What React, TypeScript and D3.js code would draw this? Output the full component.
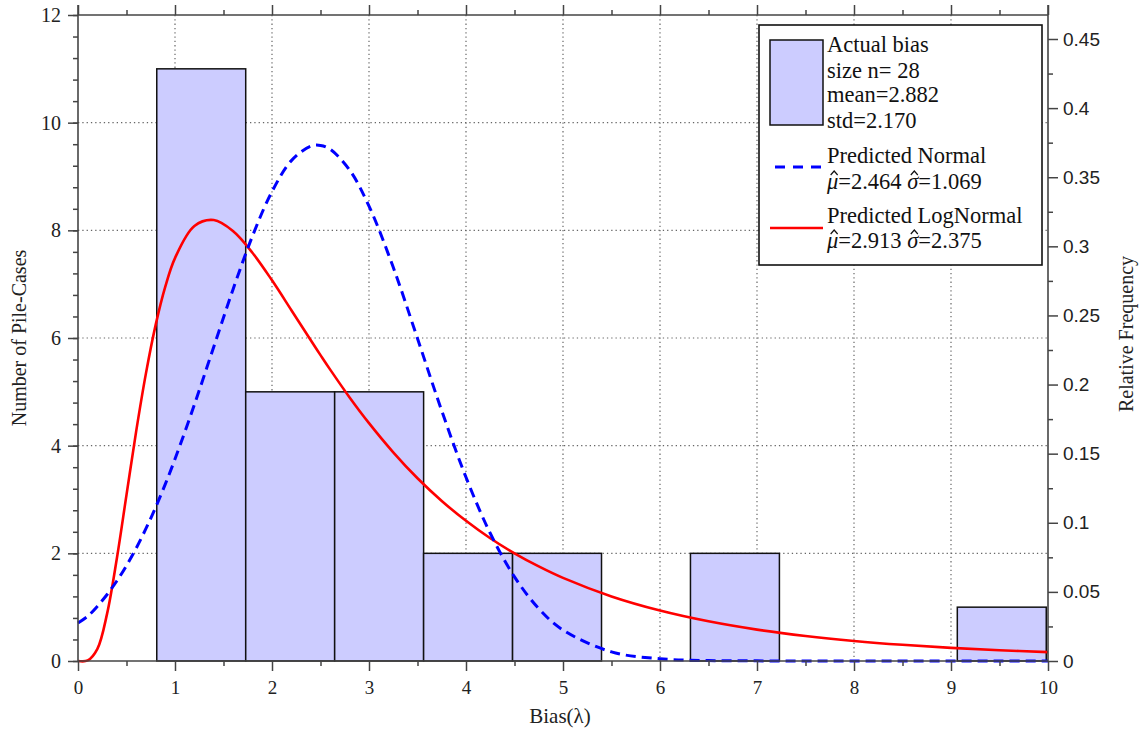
import { useEffect, useRef } from "react";
import * as d3 from "d3";

// histogram of the observed bias (10 bins between min and max)
const binEdges = [0.812, 1.729, 2.646, 3.563, 4.48, 5.397, 6.314, 7.231, 8.148, 9.065, 9.982];
const binCounts = [11, 5, 5, 2, 2, 0, 2, 0, 0, 1];
const sampleSize = 28;

// fitted densities (relative frequency axis)
const curveX = [
  0, 0.1, 0.2, 0.3, 0.4, 0.5, 0.6, 0.7, 0.8, 0.9, 1.0, 1.2, 1.4, 1.6, 1.8, 2.0, 2.2, 2.4, 2.5, 2.6,
  2.8, 3.0, 3.25, 3.5, 3.75, 4.0, 4.25, 4.5, 4.75, 5.0, 5.5, 6.0, 6.5, 7.0, 7.5, 8.0, 8.5, 9.0, 9.5, 10,
];
const normalDensity = [
  0.0275, 0.0324, 0.0396, 0.0481, 0.0579, 0.069, 0.0816, 0.0957, 0.1111, 0.128, 0.1461, 0.1855,
  0.2274, 0.2692, 0.3077, 0.3396, 0.362, 0.3725, 0.373, 0.3702, 0.3552, 0.3291, 0.2848, 0.2333,
  0.181, 0.1329, 0.0924, 0.0609, 0.0379, 0.0224, 0.0066, 0.0016, 0.0003, 0.0001, 0, 0, 0, 0, 0, 0,
];
const logNormalDensity = [
  0, 0.0004, 0.0088, 0.0343, 0.074, 0.1202, 0.1663, 0.2079, 0.243, 0.2708, 0.2915, 0.3147, 0.319,
  0.3109, 0.2952, 0.2754, 0.2538, 0.232, 0.2213, 0.2108, 0.1907, 0.1721, 0.151, 0.1322, 0.1158,
  0.1014, 0.0888, 0.0779, 0.0684, 0.0601, 0.0467, 0.0365, 0.0287, 0.0227, 0.0181, 0.0145, 0.0117,
  0.0095, 0.0078, 0.0064,
];

const xTicks = [0, 1, 2, 3, 4, 5, 6, 7, 8, 9, 10];
const countTicks = [0, 2, 4, 6, 8, 10, 12];
const freqTicks = [0, 0.05, 0.1, 0.15, 0.2, 0.25, 0.3, 0.35, 0.4, 0.45];
const gridX = [1, 2, 3, 4, 5, 6, 7, 8, 9];
const gridY = [2, 4, 6, 8, 10];

const histLabel = ["Actual bias", "size n= 28", "mean=2.882", "std=2.170"];
const normalLabel = ["Predicted Normal", "2.464", "1.069"];
const logNormalLabel = ["Predicted LogNormal", "2.913", "2.375"];

const W = 1143;
const H = 732;
const SERIF = "'Liberation Serif', 'Times New Roman', serif";
const SANS = "'Liberation Sans', Arial, sans-serif";
const AXIS = "#444";

export default function App() {
  const svgRef = useRef<SVGSVGElement>(null);

  useEffect(() => {
    if (!svgRef.current) return;
    const svg = d3.select(svgRef.current);
    svg.selectAll("*").remove();

    const left = 78, right = 1048, top = 15, bottom = 661;
    const binWidth = binEdges[1] - binEdges[0];

    const x = d3.scaleLinear().domain([0, 10]).range([left, right]);
    const yCount = d3.scaleLinear().domain([0, 12]).range([bottom, top]);
    const yFreq = d3
      .scaleLinear()
      .domain([0, 12 / (sampleSize * binWidth)])
      .range([bottom, top]);

    svg.append("rect").attr("width", W).attr("height", H).attr("fill", "#fff");

    // dotted grid
    const grid = svg.append("g").attr("stroke", "#666").attr("stroke-width", 1.2).attr("stroke-dasharray", "1.3,3");
    gridX.forEach((v) => {
      grid.append("line").attr("x1", x(v)).attr("x2", x(v)).attr("y1", top).attr("y2", bottom);
    });
    gridY.forEach((v) => {
      grid.append("line").attr("x1", left).attr("x2", right).attr("y1", yCount(v)).attr("y2", yCount(v));
    });

    // bars
    binCounts.forEach((c, i) => {
      if (c === 0) return;
      svg
        .append("rect")
        .attr("x", x(binEdges[i]))
        .attr("y", yCount(c))
        .attr("width", x(binEdges[i + 1]) - x(binEdges[i]))
        .attr("height", yCount(0) - yCount(c))
        .attr("fill", "#ccccff")
        .attr("stroke", "#111")
        .attr("stroke-width", 1.5);
    });

    // curves
    const line = d3
      .line<number>()
      .x((_, i) => x(curveX[i]))
      .y((d) => yFreq(d))
      .curve(d3.curveCatmullRom.alpha(0.5));

    svg
      .append("path")
      .datum(logNormalDensity)
      .attr("fill", "none")
      .attr("stroke", "#ff0000")
      .attr("stroke-width", 2.6)
      .attr("d", line);

    svg
      .append("path")
      .datum(normalDensity)
      .attr("fill", "none")
      .attr("stroke", "#0000ff")
      .attr("stroke-width", 3)
      .attr("stroke-dasharray", "10,6")
      .attr("d", line);

    // axes
    const styleAxis = (g: d3.Selection<SVGGElement, unknown, null, undefined>) => {
      g.select(".domain").remove();
      g.selectAll(".tick line").attr("stroke", AXIS).attr("stroke-width", 1.5);
    };

    // left
    svg
      .append("g")
      .attr("transform", `translate(${left},0)`)
      .call(d3.axisLeft(yCount).tickValues(d3.range(0, 12.001, 0.4)).tickSize(5).tickFormat(() => ""))
      .call(styleAxis);
    svg
      .append("g")
      .attr("transform", `translate(${left},0)`)
      .call(d3.axisLeft(yCount).tickValues(countTicks).tickSize(10).tickPadding(7).tickFormat(d3.format("d")))
      .call(styleAxis)
      .call((g) =>
        g.selectAll(".tick text").attr("font-family", SERIF).attr("font-size", 20).attr("fill", "#222")
      );

    // bottom
    svg
      .append("g")
      .attr("transform", `translate(0,${bottom})`)
      .call(d3.axisBottom(x).tickValues(d3.range(0.5, 10, 1)).tickSize(5).tickFormat(() => ""))
      .call(styleAxis);
    svg
      .append("g")
      .attr("transform", `translate(0,${bottom})`)
      .call(d3.axisBottom(x).tickValues(xTicks).tickSize(10).tickPadding(10).tickFormat(d3.format("d")))
      .call(styleAxis)
      .call((g) =>
        g.selectAll(".tick text").attr("font-family", SERIF).attr("font-size", 19).attr("fill", "#222")
      );

    // top
    svg
      .append("g")
      .attr("transform", `translate(0,${top})`)
      .call(d3.axisTop(x).tickValues(d3.range(0.5, 10, 1)).tickSize(5).tickFormat(() => ""))
      .call(styleAxis);
    svg
      .append("g")
      .attr("transform", `translate(0,${top})`)
      .call(d3.axisTop(x).tickValues(xTicks).tickSize(10).tickFormat(() => ""))
      .call(styleAxis);

    // right
    svg
      .append("g")
      .attr("transform", `translate(${right},0)`)
      .call(d3.axisRight(yFreq).tickValues(d3.range(0.025, 0.46, 0.05)).tickSize(5).tickFormat(() => ""))
      .call(styleAxis);
    svg
      .append("g")
      .attr("transform", `translate(${right},0)`)
      .call(
        d3
          .axisRight(yFreq)
          .tickValues(freqTicks)
          .tickSize(10)
          .tickPadding(5)
          .tickFormat((d) => String(+(+d).toFixed(2)))
      )
      .call(styleAxis)
      .call((g) =>
        g.selectAll(".tick text").attr("font-family", SANS).attr("font-size", 19).attr("fill", "#222")
      );

    // frame lines
    const frame = svg.append("g").attr("stroke", AXIS).attr("stroke-width", 1.6);
    frame.append("line").attr("x1", left).attr("x2", left).attr("y1", 5).attr("y2", bottom);
    frame.append("line").attr("x1", right).attr("x2", right).attr("y1", 5).attr("y2", bottom);
    frame.append("line").attr("x1", left).attr("x2", right).attr("y1", top).attr("y2", top);
    frame.append("line").attr("x1", left).attr("x2", right).attr("y1", bottom).attr("y2", bottom);

    // axis titles
    svg
      .append("text")
      .attr("x", 560)
      .attr("y", 723)
      .attr("text-anchor", "middle")
      .attr("font-family", SERIF)
      .attr("font-size", 21)
      .attr("fill", "#222")
      .text("Bias(λ)");
    svg
      .append("text")
      .attr("transform", `translate(26,${(top + bottom) / 2}) rotate(-90)`)
      .attr("text-anchor", "middle")
      .attr("font-family", SERIF)
      .attr("font-size", 20)
      .attr("fill", "#222")
      .text("Number of Pile-Cases");
    svg
      .append("text")
      .attr("transform", `translate(1133,${(top + bottom) / 2 - 4}) rotate(-90)`)
      .attr("text-anchor", "middle")
      .attr("font-family", SERIF)
      .attr("font-size", 20)
      .attr("fill", "#222")
      .text("Relative Frequency");

    // legend
    const lg = svg.append("g");
    lg.append("rect")
      .attr("x", 759)
      .attr("y", 25)
      .attr("width", 283)
      .attr("height", 240)
      .attr("fill", "#fff")
      .attr("stroke", "#111")
      .attr("stroke-width", 1.6);
    lg.append("rect")
      .attr("x", 770)
      .attr("y", 40)
      .attr("width", 53)
      .attr("height", 85)
      .attr("fill", "#ccccff")
      .attr("stroke", "#111")
      .attr("stroke-width", 1.5);
    lg.append("line")
      .attr("x1", 775)
      .attr("x2", 823)
      .attr("y1", 167)
      .attr("y2", 167)
      .attr("stroke", "#0000ff")
      .attr("stroke-width", 3)
      .attr("stroke-dasharray", "10,8");
    lg.append("line")
      .attr("x1", 770)
      .attr("x2", 823)
      .attr("y1", 228)
      .attr("y2", 228)
      .attr("stroke", "#ff0000")
      .attr("stroke-width", 2.6);

    const lt = lg
      .append("g")
      .attr("font-family", SERIF)
      .attr("font-size", 22.5)
      .attr("fill", "#111");
    const histY = [52, 78, 102, 128];
    histLabel.forEach((t, i) => {
      lt.append("text").attr("x", 827).attr("y", histY[i]).text(t);
    });

    // parameter line; the hats over the Greek letters are small strokes
    const paramLine = (y: number, mu: string, sigma: string) => {
      const t = lt.append("text").attr("x", 827).attr("y", y);
      t.append("tspan").attr("font-style", "italic").text("μ");
      t.append("tspan").text(`=${mu} `);
      t.append("tspan").attr("font-style", "italic").text("σ");
      t.append("tspan").text(`=${sigma}`);
      const node = t.node() as SVGTextElement;
      const content = node.textContent || "";
      [0, content.indexOf("σ")].forEach((idx) => {
        const ext = node.getExtentOfChar(idx);
        const cx = ext.x + ext.width / 2 + 1.5;
        lg.append("path")
          .attr("d", `M${cx - 3.5},${y - 14} L${cx},${y - 18} L${cx + 3.5},${y - 14}`)
          .attr("fill", "none")
          .attr("stroke", "#111")
          .attr("stroke-width", 1.2);
      });
    };

    lt.append("text").attr("x", 827).attr("y", 163).text(normalLabel[0]);
    paramLine(189, normalLabel[1], normalLabel[2]);
    lt.append("text").attr("x", 827).attr("y", 223).text(logNormalLabel[0]);
    paramLine(248, logNormalLabel[1], logNormalLabel[2]);
  }, []);

  return (
    <svg
      ref={svgRef}
      width={W}
      height={H}
      style={{ position: "absolute", left: 0, top: 0, display: "block" }}
    />
  );
}
